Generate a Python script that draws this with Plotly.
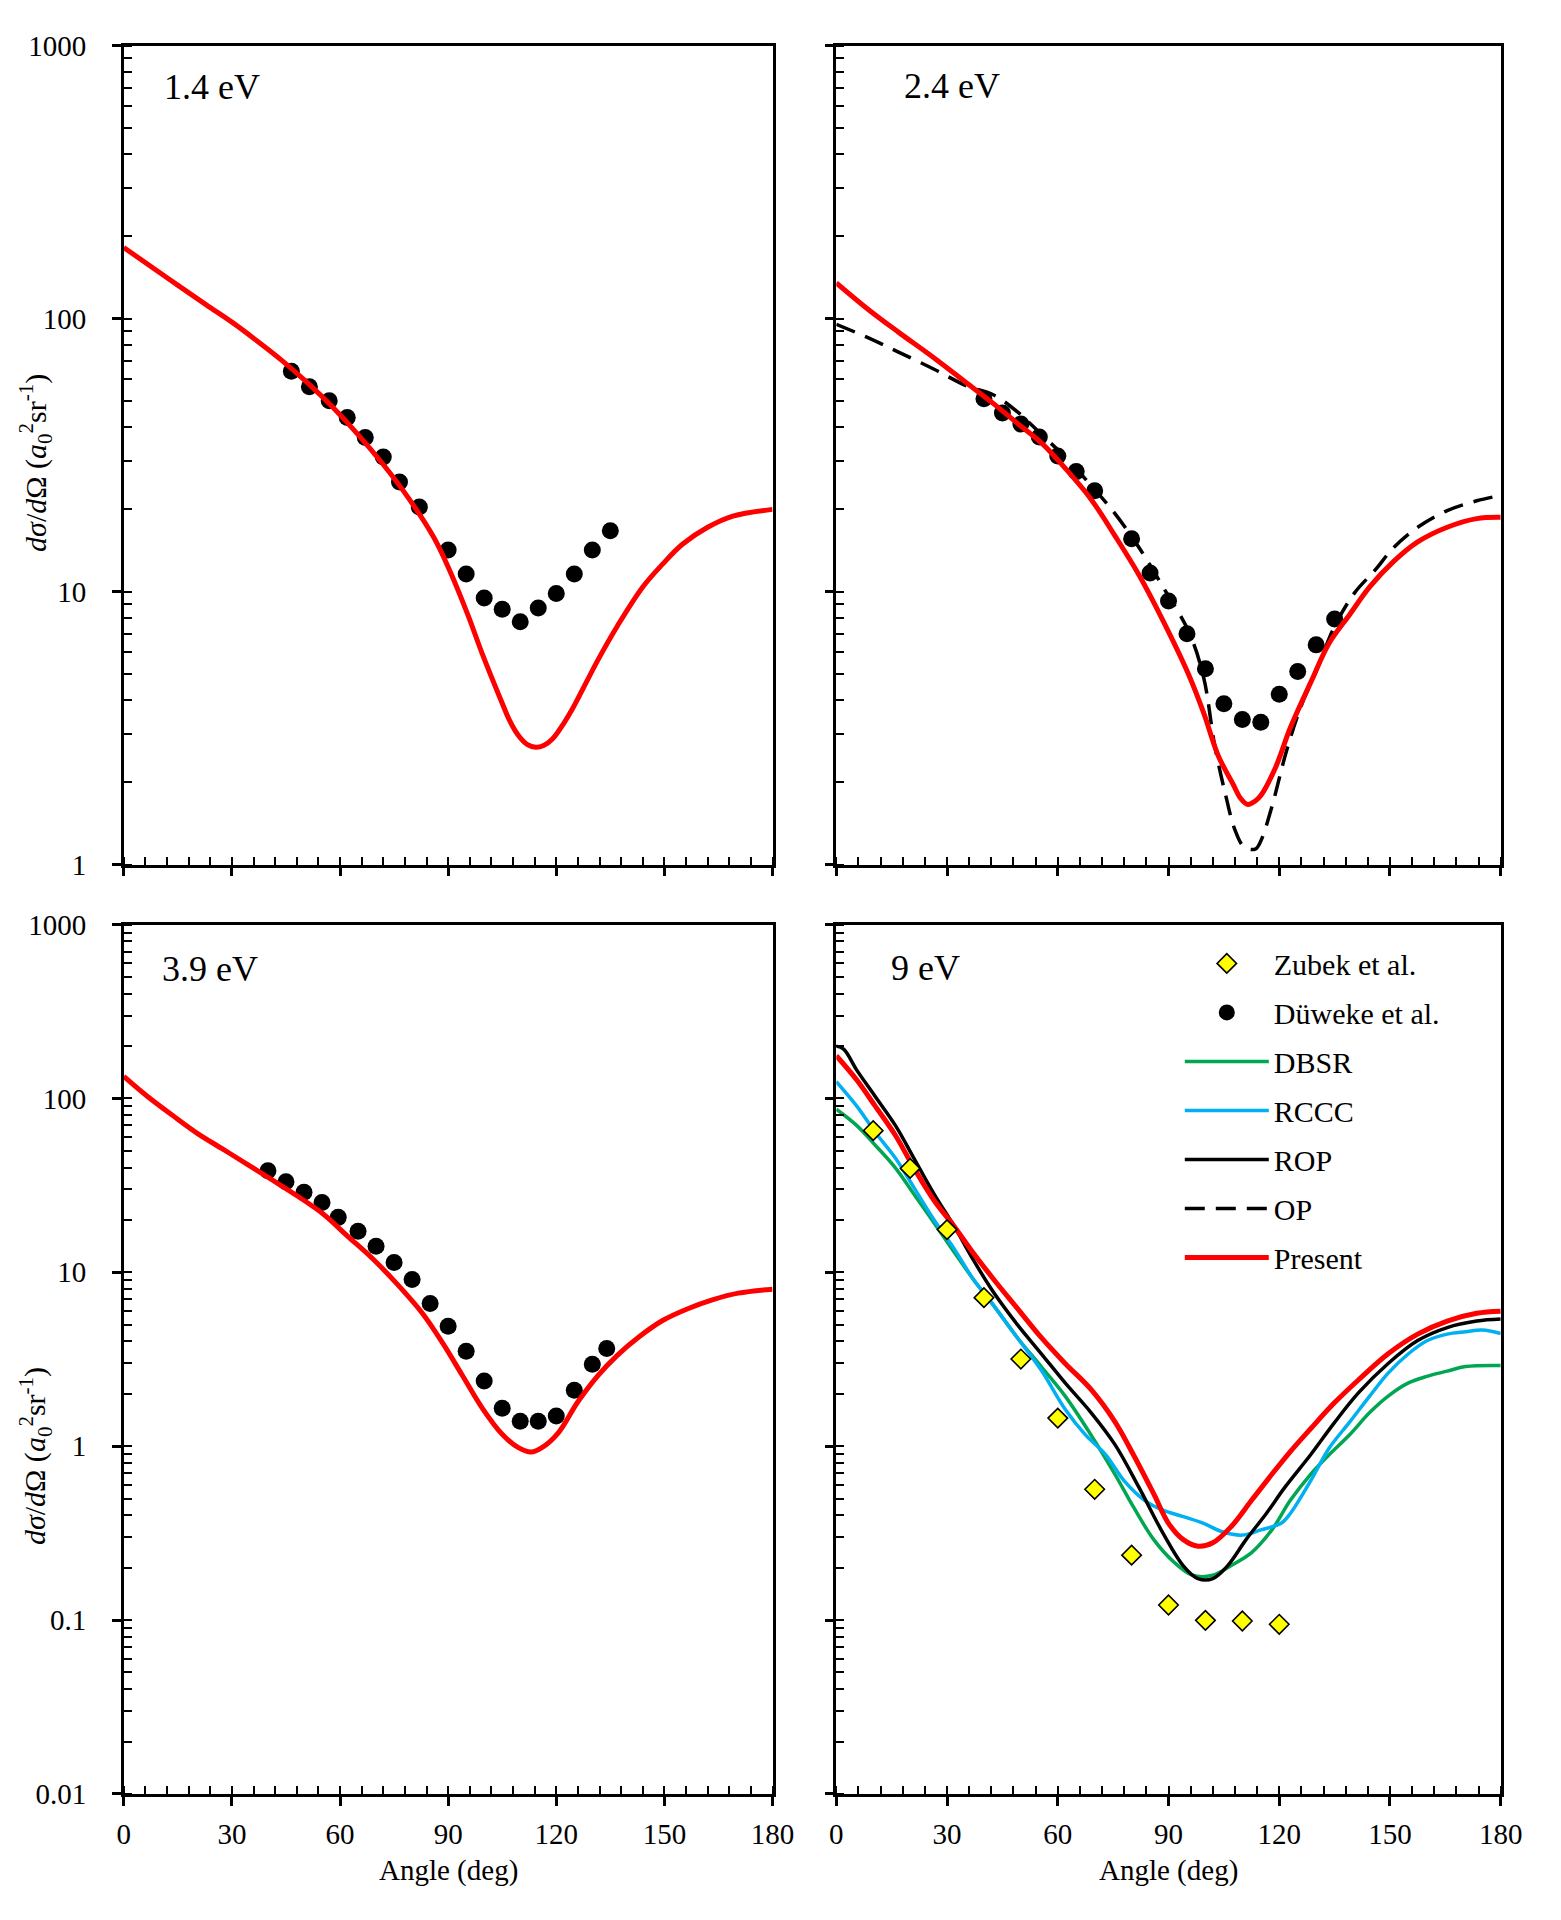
import plotly.graph_objects as go

# ---------------- data ----------------
# 1.4 eV
pres14_x = [0, 12, 23, 30, 37, 44, 51, 58, 65, 72, 79, 86, 90, 95.5, 99.5, 105, 107, 109.5, 112, 114.3, 116.5, 119, 122, 124.5, 131.5, 137, 144, 149.5, 155, 162, 169, 180]
pres14_y = [182, 141, 112, 97, 82.8, 70.0, 58.1, 47.3, 37.6, 29.2, 22.0, 15.8, 12.3, 8.2, 5.9, 3.9, 3.38, 2.97, 2.75, 2.69, 2.73, 2.89, 3.28, 3.72, 5.6, 7.5, 10.4, 12.6, 14.9, 17.2, 18.9, 20.0]
dew14_x = [46.5, 51.5, 57, 62, 67, 72, 76.5, 82, 90, 95, 100, 105, 110, 115, 120, 125, 130, 135]
dew14_y = [64.1, 56.3, 50.0, 43.4, 36.7, 31.1, 25.2, 20.4, 14.2, 11.6, 9.47, 8.61, 7.76, 8.70, 9.84, 11.6, 14.2, 16.7]

# 2.4 eV
pres24_x = [0, 9, 17, 26.5, 35.5, 42.5, 49, 55.5, 62, 69, 75.5, 82, 88.5, 95.5, 99.5, 103.5, 107.5, 109.5, 111.5, 113.5, 115, 119, 123, 128.5, 133.5, 139, 144.5, 151, 157.5, 165.5, 173.5, 180]
pres24_y = [135, 107, 88.8, 71.7, 57.8, 48.9, 41.4, 35.1, 28.3, 21.8, 16.0, 11.5, 7.83, 4.95, 3.6, 2.50, 1.97, 1.75, 1.66, 1.71, 1.79, 2.27, 3.17, 4.64, 6.47, 8.21, 10.4, 12.9, 15.2, 17.2, 18.5, 18.7]
op24_x = [0, 9, 17, 26.5, 35.5, 42.5, 49, 55.5, 62, 69, 75.5, 82, 88.5, 95.5, 99.5, 102.5, 105.5, 108, 110.5, 113.5, 115, 118, 122, 126, 130, 135, 140.5, 146, 151, 157.5, 165.5, 173.5, 180]
op24_y = [95.3, 84.6, 75.2, 65.2, 56.5, 52.6, 45.6, 37.7, 31.1, 24.5, 19.3, 14.5, 10.4, 7.12, 4.86, 2.74, 1.79, 1.34, 1.16, 1.14, 1.22, 1.63, 2.62, 3.83, 5.10, 7.46, 9.93, 12.0, 14.5, 17.2, 19.8, 21.5, 22.5]
dew24_x = [40, 45, 50, 55, 60, 65, 70, 80, 85, 90, 95, 100, 105, 110, 115, 120, 125, 130, 135]
dew24_y = [50.8, 45.1, 41.1, 36.8, 31.4, 27.5, 23.4, 15.6, 11.7, 9.24, 7.01, 5.22, 3.88, 3.40, 3.32, 4.21, 5.10, 6.38, 7.94]

# 3.9 eV
pres39_x = [0, 6.5, 13.5, 20.5, 27.5, 34.5, 41.5, 48.5, 55.5, 62, 69, 76, 83, 88.5, 94, 99.5, 105, 109.5, 113, 116, 120.5, 126, 131.5, 137, 143, 149.5, 156.5, 163.5, 170.5, 180]
pres39_y = [134, 103, 80, 62.8, 51.1, 41.5, 33.7, 27.2, 21.5, 16.2, 12.0, 8.49, 5.76, 3.91, 2.54, 1.65, 1.17, 0.98, 0.925, 0.98, 1.19, 1.80, 2.54, 3.34, 4.26, 5.28, 6.17, 6.96, 7.59, 8.0]
dew39_x = [40, 45, 50, 55, 59.5, 65, 70, 75, 80, 85, 90, 95, 100, 105, 110, 115, 120, 125, 130, 134]
dew39_y = [38.4, 33.2, 28.9, 25.2, 20.7, 17.2, 14.1, 11.4, 9.09, 6.61, 4.89, 3.52, 2.37, 1.65, 1.39, 1.39, 1.49, 2.10, 2.96, 3.65]

# 9 eV
zub9_x = [10, 20, 30, 40, 50, 60, 70, 80, 90, 100, 110, 120]
zub9_y = [65.3, 39.6, 17.6, 7.15, 3.17, 1.45, 0.565, 0.236, 0.122, 0.0996, 0.0987, 0.0945]
pres9_x = [0, 5.5, 10.5, 16, 21, 26.5, 32, 37, 42.5, 49, 55.5, 62, 69, 75.5, 80.5, 86, 90, 94, 98, 102, 107, 112.5, 118, 123, 128.5, 135, 141.5, 149.5, 157.5, 165.5, 173.5, 180]
pres9_y = [176, 128, 90.6, 61.4, 39.9, 25.9, 18.3, 13.0, 9.19, 6.22, 4.22, 2.99, 2.12, 1.38, 0.892, 0.531, 0.360, 0.290, 0.266, 0.278, 0.345, 0.488, 0.689, 0.931, 1.26, 1.78, 2.41, 3.40, 4.41, 5.24, 5.81, 5.97]
rop9_x = [0, 2, 5.5, 10.5, 16, 21, 26.5, 32, 37, 42.5, 49, 55.5, 62, 69, 75.5, 82, 88.5, 94, 98, 102, 106, 111, 116.5, 121.5, 128.5, 135, 141.5, 149.5, 157.5, 165.5, 173.5, 180]
rop9_y = [200, 192, 146, 103, 70.0, 45.4, 28.2, 18.3, 11.9, 7.73, 5.02, 3.41, 2.31, 1.56, 1.02, 0.579, 0.316, 0.205, 0.173, 0.173, 0.205, 0.290, 0.410, 0.579, 0.892, 1.37, 2.03, 2.99, 4.05, 4.81, 5.24, 5.38]
rccc9_x = [0, 5.5, 10.5, 16, 21, 26.5, 32, 37, 42.5, 49, 55.5, 62, 67.5, 73, 78, 83.5, 88.5, 94, 99.5, 104.5, 110, 115, 120.5, 123, 128.5, 133.5, 139, 144.5, 149.5, 155, 160, 165.5, 170.5, 175, 180]
rccc9_y = [125, 90.6, 64.1, 45.4, 30.8, 20.0, 13.6, 9.19, 6.50, 4.22, 2.74, 1.63, 1.16, 0.892, 0.631, 0.488, 0.428, 0.393, 0.360, 0.322, 0.308, 0.330, 0.360, 0.410, 0.631, 0.973, 1.37, 1.94, 2.63, 3.40, 4.04, 4.41, 4.55, 4.65, 4.45]
dbsr9_x = [0, 5.5, 10.5, 16, 21, 26.5, 32, 37, 42.5, 49, 55.5, 62, 69, 75.5, 80.5, 86, 91.5, 96.5, 102, 107, 112.5, 118, 123, 128.5, 133.5, 139, 144.5, 149.5, 155, 160, 165.5, 170.5, 180]
dbsr9_y = [86.7, 70.0, 54.0, 39.9, 28.2, 19.2, 13.0, 9.19, 6.50, 4.22, 2.87, 1.94, 1.16, 0.689, 0.447, 0.290, 0.215, 0.181, 0.181, 0.206, 0.244, 0.330, 0.488, 0.689, 0.892, 1.16, 1.56, 1.94, 2.31, 2.52, 2.70, 2.87, 2.91]

panel_labels = ["1.4 eV", "2.4 eV", "3.9 eV", "9 eV"]
x_ticks = [0, 30, 60, 90, 120, 150, 180]
y_ticks_top = [1, 10, 100, 1000]
y_ticks_bot = [0.01, 0.1, 1, 10, 100, 1000]
y_ticktext_top = ["1", "10", "100", "1000"]
y_ticktext_bot = ["0.01", "0.1", "1", "10", "100", "1000"]
ylabel = "<i>d</i><i>σ</i>/<i>d</i>Ω (<i>a</i><sub>0</sub><sup>2</sup>sr<sup>-1</sup>)"
xlabel = "Angle (deg)"

# ---------------- styles ----------------
FONT = "Liberation Serif"
RED = "#FF0000"
GREEN = "#00A651"
BLUE = "#00B0F0"
W, H = 1561, 1920

def px_x(p):
    return p / W

def px_y(p):
    return 1 - p / H

dom_x_left = [px_x(119), px_x(780)]
dom_x_right = [px_x(845), px_x(1522)]
dom_y_top = [px_y(863), px_y(30)]
dom_y_bot = [px_y(1808), px_y(924)]

fig = go.Figure()

def line(x, y, name, color, width, axes, dash="solid", show=False, rank=0):
    fig.add_trace(go.Scatter(
        x=x, y=y, mode="lines", name=name,
        line=dict(color=color, width=width, dash=dash, shape="spline", smoothing=1.0),
        xaxis=axes[0], yaxis=axes[1], showlegend=show, legendrank=rank,
        legendgroup=name))

def dots(x, y, name, axes, show=False, rank=0):
    fig.add_trace(go.Scatter(
        x=x, y=y, mode="markers", name=name,
        marker=dict(symbol="circle", size=17, color="black"),
        xaxis=axes[0], yaxis=axes[1], showlegend=show, legendrank=rank,
        legendgroup=name))

A1, A2, A3, A4 = ("x", "y"), ("x2", "y2"), ("x3", "y3"), ("x4", "y4")

# panel 1
dots(dew14_x, dew14_y, "Düweke et al.", A1, show=True, rank=2)
line(pres14_x, pres14_y, "Present", RED, 5, A1)
# panel 2
line(op24_x, op24_y, "OP", "black", 3.5, A2, dash="20px,11px", show=True, rank=6)
dots(dew24_x, dew24_y, "Düweke et al.", A2)
line(pres24_x, pres24_y, "Present", RED, 5, A2)
# panel 3
dots(dew39_x, dew39_y, "Düweke et al.", A3)
line(pres39_x, pres39_y, "Present", RED, 5, A3)
# panel 4
line(dbsr9_x, dbsr9_y, "DBSR", GREEN, 3.5, A4, show=True, rank=3)
line(rccc9_x, rccc9_y, "RCCC", BLUE, 3.5, A4, show=True, rank=4)
line(rop9_x, rop9_y, "ROP", "black", 3.5, A4, show=True, rank=5)
line(pres9_x, pres9_y, "Present", RED, 5, A4, show=True, rank=7)
fig.add_trace(go.Scatter(
    x=zub9_x, y=zub9_y, mode="markers", name="Zubek et al.",
    marker=dict(symbol="diamond", size=15, color="#FFFF00", line=dict(color="black", width=1.6)),
    xaxis="x4", yaxis="y4", showlegend=True, legendrank=1, legendgroup="Zubek et al."))

tickfont = dict(family=FONT, size=29, color="black")

def minor_vals(lo, hi):
    out = []
    for e in range(lo, hi + 1):
        for m in range(1, 10):
            v = m * 10 ** e
            if e == hi and m > 1:
                break
            out.append(v)
    return out

def xaxis(domain, anchor, labels):
    return dict(domain=domain, anchor=anchor, range=[0, 180], tickvals=x_ticks,
                showticklabels=labels, ticks="outside", ticklen=9, tickwidth=2.5,
                tickcolor="black", showline=True, linewidth=2.5, linecolor="black",
                mirror=True, showgrid=False, zeroline=False, tickfont=tickfont,
                ticklabelstandoff=4,
                minor=dict(tickmode="array", tickvals=list(range(0, 181, 6)), ticks="inside",
                           ticklen=8, tickwidth=2.2, tickcolor="black", showgrid=False))

def yaxis(domain, anchor, bottom, labels):
    if bottom:
        rng, tv, tt, mv = [-2, 3], y_ticks_bot, y_ticktext_bot, minor_vals(-2, 3)
    else:
        rng, tv, tt, mv = [0, 3], y_ticks_top, y_ticktext_top, minor_vals(0, 3)
    return dict(domain=domain, anchor=anchor, type="log", range=rng,
                tickmode="array", tickvals=tv, ticktext=tt,
                showticklabels=labels, ticks="outside", ticklen=9, tickwidth=2.5,
                tickcolor="black", showline=True, linewidth=2.5, linecolor="black",
                mirror=True, showgrid=False, zeroline=False, tickfont=tickfont,
                ticklabelstandoff=20,
                minor=dict(tickmode="array", tickvals=mv, ticks="inside",
                           ticklen=8, tickwidth=2.2, tickcolor="black", showgrid=False))

annotations = []
label_pos = [("x", "y", 0.059, 72 - 30, 863 - 30),
             ("x2", "y2", 0.099, 71 - 30, 863 - 30),
             ("x3", "y3", 0.056, 969 - 924, 1808 - 924),
             ("x4", "y4", 0.079, 968 - 924, 1808 - 924)]
for txt, (xa, ya, xf, dy, hh) in zip(panel_labels, label_pos):
    annotations.append(dict(text=txt, xref=xa + " domain", yref=ya + " domain",
                            x=xf, y=1 - dy / hh, xanchor="left", yanchor="middle",
                            showarrow=False, font=dict(family=FONT, size=36, color="black")))

for yc in (454, 1464):
    annotations.append(dict(text=ylabel, xref="paper", yref="paper", x=px_x(29), y=px_y(yc),
                            xanchor="center", yanchor="middle", textangle=-90, showarrow=False,
                            font=dict(family=FONT, size=30, color="black")))
for xc in ((119 + 780) / 2, (845 + 1522) / 2):
    annotations.append(dict(text=xlabel, xref="paper", yref="paper", x=px_x(xc), y=px_y(1886),
                            xanchor="center", yanchor="middle", showarrow=False,
                            font=dict(family=FONT, size=29, color="black")))

fig.update_layout(
    width=W, height=H, autosize=False,
    margin=dict(l=0, r=0, t=0, b=0, pad=0),
    paper_bgcolor="white", plot_bgcolor="white",
    font=dict(family=FONT, size=30, color="black"),
    xaxis=xaxis(dom_x_left, "y", False),
    yaxis=yaxis(dom_y_top, "x", False, True),
    xaxis2=xaxis(dom_x_right, "y2", False),
    yaxis2=yaxis(dom_y_top, "x2", False, False),
    xaxis3=xaxis(dom_x_left, "y3", True),
    yaxis3=yaxis(dom_y_bot, "x3", True, True),
    xaxis4=xaxis(dom_x_right, "y4", True),
    yaxis4=yaxis(dom_y_bot, "x4", True, False),
    legend=dict(x=px_x(1195), y=px_y(937), xanchor="left", yanchor="top",
                bgcolor="rgba(0,0,0,0)", borderwidth=0, itemwidth=84,
                traceorder="grouped", tracegroupgap=7,
                font=dict(family=FONT, size=30, color="black")),
    annotations=annotations,
    showlegend=True,
)

page_fix = (
    "document.documentElement.style.margin='0';"
    "document.documentElement.style.overflow='hidden';"
    "document.body.style.margin='0';"
    "document.body.style.padding='0';"
    "document.body.style.overflow='hidden';"
    "var g=document.getElementById('{plot_id}');"
    "g.style.position='absolute';g.style.left='0px';g.style.top='0px';"
)

fig.write_html("out.html", config={"displayModeBar": False}, post_script=page_fix)
